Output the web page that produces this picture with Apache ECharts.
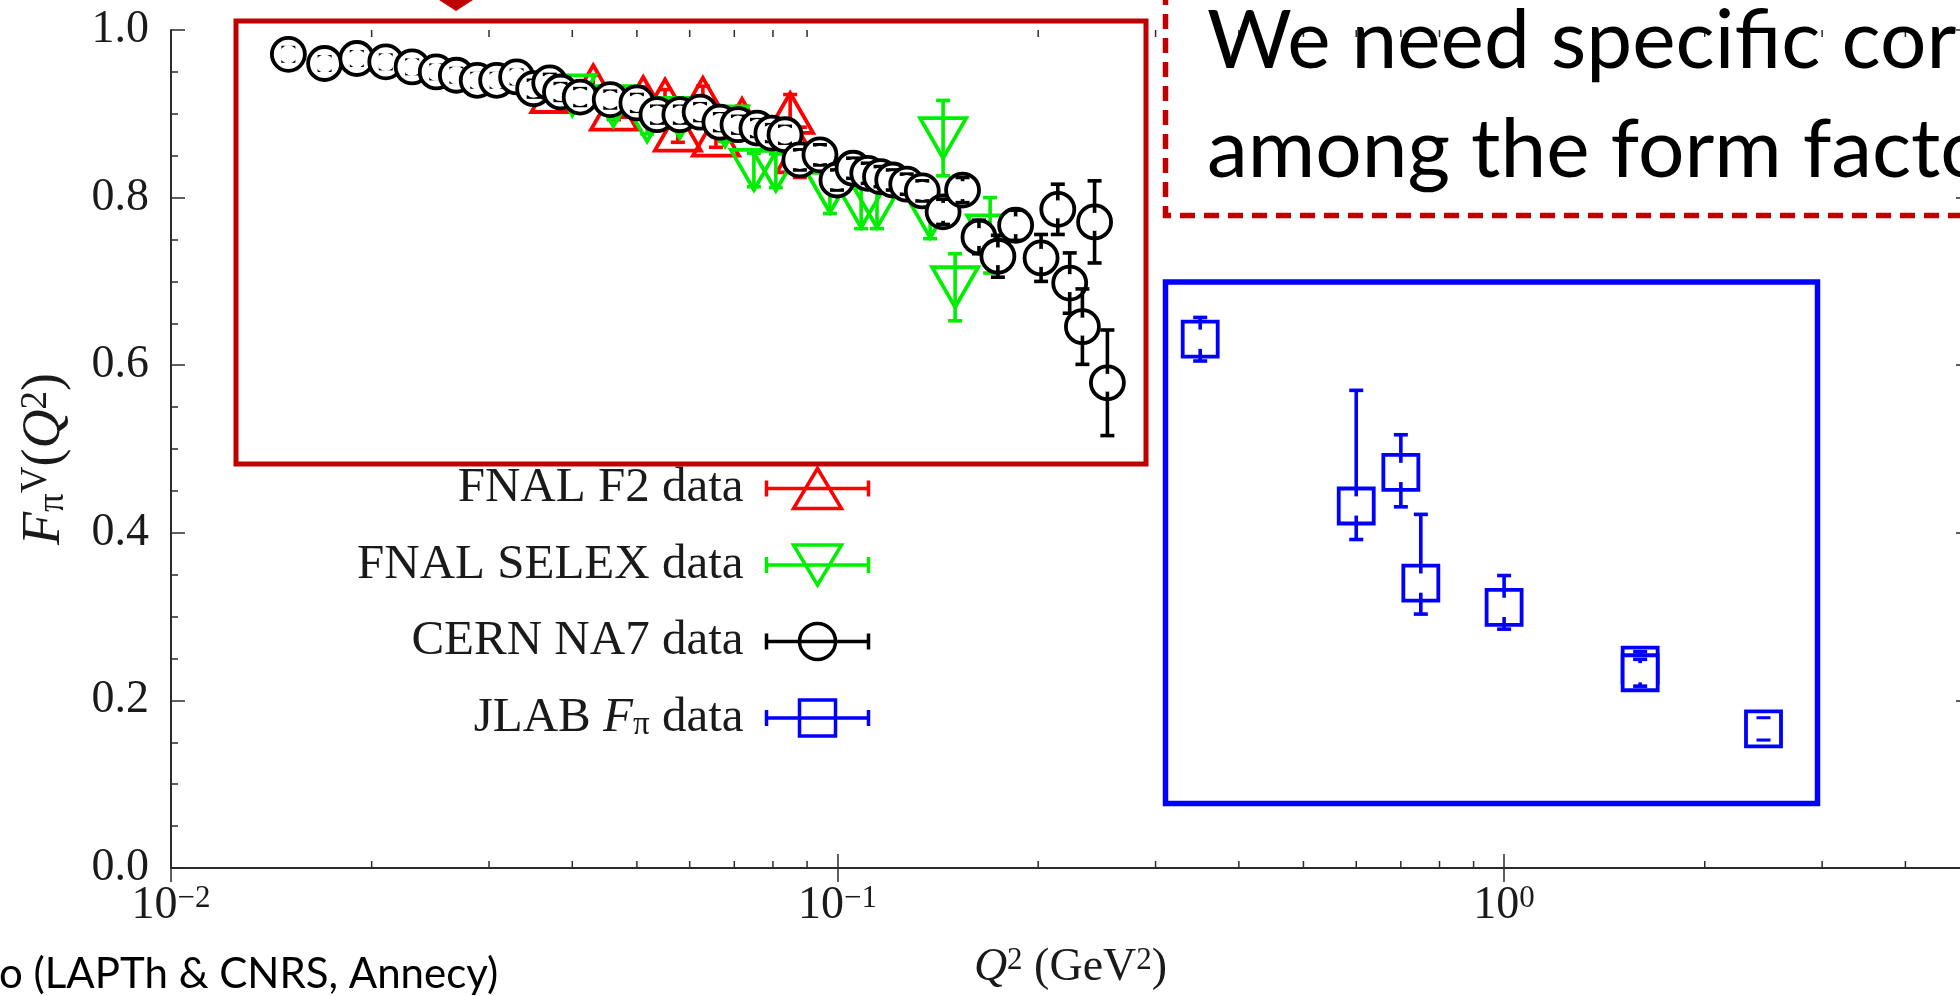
<!DOCTYPE html>
<html>
<head>
<meta charset="utf-8">
<title>Pion form factor data</title>
<script src="https://cdn.jsdelivr.net/npm/echarts@6/dist/echarts.min.js"></script>
<style>
  html, body { margin: 0; padding: 0; background: #fff; overflow: hidden; }
  #chart { width: 1960px; height: 996px; }
</style>
</head>
<body>
<div id="chart"></div>
<script>
// FNAL F2 data (red, up triangles)
const f2Q2 = [0.0376, 0.0430, 0.0462, 0.0511, 0.0551, 0.0576, 0.0628, 0.0657, 0.0719, 0.0849, 0.0878]
const f2F = [0.926, 0.934, 0.905, 0.920, 0.917, 0.880, 0.919, 0.874, 0.894, 0.901, 0.854]
const f2Err = [0.012, 0.012, 0.012, 0.012, 0.012, 0.014, 0.014, 0.014, 0.015, 0.022, 0.030]

// FNAL SELEX data (green, down triangles)
const selexQ2 = [0.0400, 0.0461, 0.0518, 0.0580, 0.0678, 0.0749, 0.0808, 0.0974, 0.1085, 0.1146, 0.1377, 0.1440, 0.1501, 0.1694]
const selexF = [0.922, 0.909, 0.891, 0.895, 0.885, 0.833, 0.832, 0.806, 0.788, 0.788, 0.776, 0.871, 0.693, 0.755]
const selexErr = [0.015, 0.015, 0.015, 0.015, 0.018, 0.020, 0.020, 0.025, 0.025, 0.025, 0.025, 0.045, 0.040, 0.045]

// CERN NA7 data (black circles)
const na7Q2 = [0.0150, 0.0170, 0.0190, 0.0210, 0.0230, 0.0250, 0.0268, 0.0288, 0.0308, 0.0330,
  0.0350, 0.0370, 0.0384, 0.0411, 0.0456, 0.0500, 0.0536, 0.0580, 0.0622, 0.0666,
  0.0709, 0.0757, 0.0797, 0.0834, 0.0878, 0.0941, 0.0998, 0.1055, 0.111, 0.116,
  0.121, 0.127, 0.134, 0.144, 0.154, 0.163, 0.174, 0.185, 0.202, 0.214,
  0.223, 0.233, 0.243, 0.254]
const na7F = [0.971, 0.960, 0.966, 0.962, 0.956, 0.950, 0.946, 0.940, 0.940, 0.944,
  0.930, 0.937, 0.926, 0.920, 0.917, 0.913, 0.899, 0.899, 0.902, 0.890,
  0.887, 0.883, 0.877, 0.875, 0.845, 0.851, 0.821, 0.835, 0.829, 0.825,
  0.821, 0.816, 0.808, 0.783, 0.809, 0.753, 0.730, 0.767, 0.728, 0.786,
  0.698, 0.646, 0.771, 0.579]
const na7Err = [0.008, 0.008, 0.008, 0.008, 0.008, 0.008, 0.008, 0.008, 0.008, 0.008,
  0.010, 0.010, 0.010, 0.010, 0.010, 0.010, 0.010, 0.010, 0.010, 0.010,
  0.010, 0.010, 0.010, 0.010, 0.012, 0.012, 0.012, 0.012, 0.012, 0.012,
  0.012, 0.012, 0.012, 0.015, 0.015, 0.020, 0.025, 0.018, 0.028, 0.030,
  0.036, 0.045, 0.049, 0.063]

// JLAB F_pi data (blue squares), asymmetric errors
const jlabQ2 = [0.35, 0.60, 0.70, 0.75, 1.00, 1.60, 1.60, 2.45]
const jlabF = [0.631, 0.432, 0.472, 0.340, 0.311, 0.242, 0.233, 0.166]
const jlabErrUp = [0.026, 0.138, 0.045, 0.082, 0.038, 0.016, 0.016, 0.013]
const jlabErrDown = [0.026, 0.040, 0.041, 0.037, 0.026, 0.016, 0.016, 0.013]

// log axis minor tick positions
const xMinorTicks = [0.02, 0.03, 0.04, 0.05, 0.06, 0.07, 0.08, 0.09,
  0.2, 0.3, 0.4, 0.5, 0.6, 0.7, 0.8, 0.9, 2, 3, 4]

const SERIF = "'Liberation Serif', 'DejaVu Serif', serif"
const SANS = "Lato, 'Noto Sans', sans-serif"
const AX = '#2b2b2b'
const TXT = '#1a1a1a'
const DARKRED = '#C00000'

const chart = echarts.init(document.getElementById('chart'))

function markerShape(kind, cx, cy, s) {
  if (kind === 'circle')
    return { type: 'circle', shape: { cx, cy, r: 16.5 * s } }
  if (kind === 'square')
    return { type: 'rect', shape: { x: cx - 17.5 * s, y: cy - 17.5 * s, width: 35 * s, height: 35 * s } }
  const h = 20 * s
  const w = 23 * s
  if (kind === 'up')
    return { type: 'polygon', shape: { points: [[cx, cy - h], [cx + w, cy + h], [cx - w, cy + h]] } }
  return { type: 'polygon', shape: { points: [[cx, cy + h], [cx + w, cy - h], [cx - w, cy - h]] } }
}

function errorRender(kind, color) {
  return function (params, api) {
    const q = api.value(0)
    const f = api.value(1)
    const c = api.coord([q, f])
    const yTop = api.coord([q, f + api.value(2)])[1]
    const yBot = api.coord([q, f - api.value(3)])[1]
    const line = { stroke: color, lineWidth: 3.6, fill: 'none' }
    const filled = kind === 'circle' || kind === 'square'
    const kids = []
    if (filled)
      kids.push(Object.assign(markerShape(kind, c[0], c[1], 1), { style: { fill: '#fff' } }))
    kids.push({ type: 'line', shape: { x1: c[0], y1: yTop, x2: c[0], y2: yBot }, style: line })
    kids.push({ type: 'line', shape: { x1: c[0] - 7, y1: yTop, x2: c[0] + 7, y2: yTop }, style: line })
    kids.push({ type: 'line', shape: { x1: c[0] - 7, y1: yBot, x2: c[0] + 7, y2: yBot }, style: line })
    if (filled)
      kids.push(Object.assign(markerShape(kind, c[0], c[1], 0.55), { style: { fill: '#fff' } }))
    kids.push(Object.assign(markerShape(kind, c[0], c[1], 1), { style: { fill: 'none', stroke: color, lineWidth: 3.8 } }))
    return { type: 'group', children: kids }
  }
}

function sym(q, f, up, down) {
  return q.map((v, i) => [v, f[i], up[i], down[i]])
}

function decadeLabel(v) {
  const e = Math.round(Math.log10(v))
  if (Math.abs(v / Math.pow(10, e) - 1) > 1e-6)
    return ''
  return '10{sup|' + (e < 0 ? '\u2212' + (-e) : e) + '}'
}

function richSet(size) {
  const small = Math.round(size * 0.68)
  return {
    it: { fontFamily: SERIF, fontSize: size, fontStyle: 'italic', color: TXT },
    sup: { fontFamily: SERIF, fontSize: small, color: TXT, verticalAlign: 'top', lineHeight: Math.round(size * 0.48) },
    sub: { fontFamily: SERIF, fontSize: small, color: TXT, verticalAlign: 'bottom', lineHeight: Math.round(size * 0.44) },
  }
}

// legend icons: error bar with the marker, empty space at left as gap to the text
const capPath = 'M0 0 M0 42 M18 21 L120 21 M18 13 L18 29 M120 13 L120 29 '
const legendIcons = {
  up: 'path://' + capPath + 'M69 1 L93 41 L45 41 Z',
  down: 'path://' + capPath + 'M69 41 L93 1 L45 1 Z',
  circle: 'path://' + capPath + 'M87 21 A18 18 0 1 1 51 21 A18 18 0 1 1 87 21 Z',
  square: 'path://' + capPath + 'M51 3 L87 3 L87 39 L51 39 Z',
}

const seriesDefs = [
  { name: 'FNAL F2 data', kind: 'up', color: '#FF0000', data: sym(f2Q2, f2F, f2Err, f2Err) },
  { name: 'FNAL SELEX data', kind: 'down', color: '#00EE00', data: sym(selexQ2, selexF, selexErr, selexErr) },
  { name: 'CERN NA7 data', kind: 'circle', color: '#000000', data: sym(na7Q2, na7F, na7Err, na7Err) },
  { name: 'JLAB F\u03C0 data', kind: 'square', color: '#0000FF', data: sym(jlabQ2, jlabF, jlabErrUp, jlabErrDown) },
]

const option = {
  animation: false,
  backgroundColor: '#fff',
  textStyle: { fontFamily: SERIF },
  grid: { left: 171, right: -10, top: 30, bottom: 128, outerBoundsMode: 'none' },
  xAxis: [
    {
      type: 'log',
      logBase: 10,
      min: 0.01,
      max: 5,
      position: 'bottom',
      axisLine: { show: true, lineStyle: { color: AX, width: 2 } },
      axisTick: { inside: true, length: 14, lineStyle: { color: AX, width: 1.5 } },
      splitLine: { show: false },
      axisLabel: {
        formatter: decadeLabel,
        fontFamily: SERIF,
        fontSize: 46,
        color: TXT,
        margin: 15,
        rich: { sup: richSet(46).sup },
      },
      name: '{it|Q}{sup|2} (GeV{sup|2})',
      nameLocation: 'middle',
      nameGap: 77,
      nameTextStyle: { fontFamily: SERIF, fontSize: 46, color: TXT, rich: richSet(46) },
    },
    {
      type: 'log',
      logBase: 10,
      min: 0.01,
      max: 5,
      position: 'top',
      axisLine: { show: true, lineStyle: { color: AX, width: 2 } },
      axisTick: { inside: true, length: 14, lineStyle: { color: AX, width: 1.5 } },
      axisLabel: { show: false },
      splitLine: { show: false },
    },
  ],
  yAxis: [
    {
      type: 'value',
      min: 0,
      max: 1,
      interval: 0.2,
      position: 'left',
      axisLine: { show: true, lineStyle: { color: AX, width: 2 } },
      axisTick: { inside: true, length: 14, lineStyle: { color: AX, width: 1.5 } },
      minorTick: { show: true, splitNumber: 4, length: 7, lineStyle: { color: AX, width: 1.5 } },
      splitLine: { show: false },
      axisLabel: {
        fontFamily: SERIF,
        fontSize: 46,
        color: TXT,
        margin: 22,
        formatter: v => v.toFixed(1),
      },
      name: '{it|F}{sub|\u03C0}{sup|V}({it|Q}{sup|2})',
      nameLocation: 'middle',
      nameRotate: 90,
      nameGap: 99,
      nameTextStyle: { fontFamily: SERIF, fontSize: 54, color: TXT, padding: [0, 20, 0, 0], rich: richSet(54) },
    },
    {
      type: 'value',
      min: 0,
      max: 1,
      interval: 0.2,
      position: 'right',
      axisLine: { show: true, lineStyle: { color: AX, width: 2 } },
      axisTick: { inside: true, length: 14, lineStyle: { color: AX, width: 1.5 } },
      minorTick: { show: true, splitNumber: 4, length: 7, lineStyle: { color: AX, width: 1.5 } },
      splitLine: { show: false },
      axisLabel: { show: false },
    },
  ],
  legend: {
    orient: 'vertical',
    align: 'right',
    right: 1089,
    top: 464,
    padding: 0,
    itemGap: 27.5,
    itemWidth: 120,
    itemHeight: 42,
    selectedMode: false,
    textStyle: {
      fontFamily: SERIF,
      fontSize: 49,
      color: TXT,
      lineHeight: 48,
      rich: richSet(49),
    },
    formatter: name => name === 'JLAB F\u03C0 data' ? 'JLAB {it|F}{sub|\u03C0} data' : name,
    data: seriesDefs.map(s => ({
      name: s.name,
      icon: legendIcons[s.kind],
      itemStyle: { color: 'none', borderColor: s.color, borderWidth: 3.5 },
    })),
  },
  series: [
    {
      type: 'custom',
      name: 'minor ticks',
      silent: true,
      xAxisIndex: 0,
      yAxisIndex: 0,
      data: xMinorTicks.map(v => [v, 0]),
      renderItem(params, api) {
        const v = api.value(0)
        const b = api.coord([v, 0])
        const t = api.coord([v, 1])
        const st = { stroke: AX, lineWidth: 1.5 }
        return {
          type: 'group',
          children: [
            { type: 'line', shape: { x1: b[0], y1: b[1], x2: b[0], y2: b[1] - 7 }, style: st },
            { type: 'line', shape: { x1: t[0], y1: t[1], x2: t[0], y2: t[1] + 7 }, style: st },
          ],
        }
      },
    },
    ...seriesDefs.map(s => ({
      type: 'custom',
      name: s.name,
      xAxisIndex: 0,
      yAxisIndex: 0,
      itemStyle: { color: s.color },
      data: s.data,
      renderItem: errorRender(s.kind, s.color),
    })),
  ],
  graphic: [
    {
      type: 'rect', z: 100, silent: true,
      shape: { x: 236, y: 21, width: 910, height: 443 },
      style: { fill: 'none', stroke: DARKRED, lineWidth: 5 },
    },
    {
      type: 'polygon', z: 100, silent: true,
      shape: { points: [[436, -2], [476, -2], [456, 11]] },
      style: { fill: DARKRED },
    },
    {
      type: 'polyline', z: 100, silent: true,
      shape: { points: [[1165.5, -10], [1165.5, 215.5], [1980, 215.5]] },
      style: { fill: 'none', stroke: DARKRED, lineWidth: 5.5, lineDash: [15, 9] },
    },
    {
      type: 'rect', z: 100, silent: true,
      shape: { x: 1165.5, y: 282, width: 652, height: 521.5 },
      style: { fill: 'none', stroke: '#0000FF', lineWidth: 5.5 },
    },
    {
      type: 'text', z: 100, silent: true, x: 1207, y: 42,
      style: { text: 'We need specific correlations', fontFamily: SANS, fontSize: 82, fill: '#000', verticalAlign: 'middle' },
    },
    {
      type: 'text', z: 100, silent: true, x: 1207, y: 151,
      style: { text: 'among the form factors', fontFamily: SANS, fontSize: 82, fill: '#000', verticalAlign: 'middle' },
    },
    {
      type: 'text', z: 100, silent: true, x: -1, y: 974,
      style: { text: 'o (LAPTh & CNRS, Annecy)', fontFamily: SANS, fontSize: 42, fill: '#000', verticalAlign: 'middle' },
    },
  ],
}

chart.setOption(option)
</script>
</body>
</html>
